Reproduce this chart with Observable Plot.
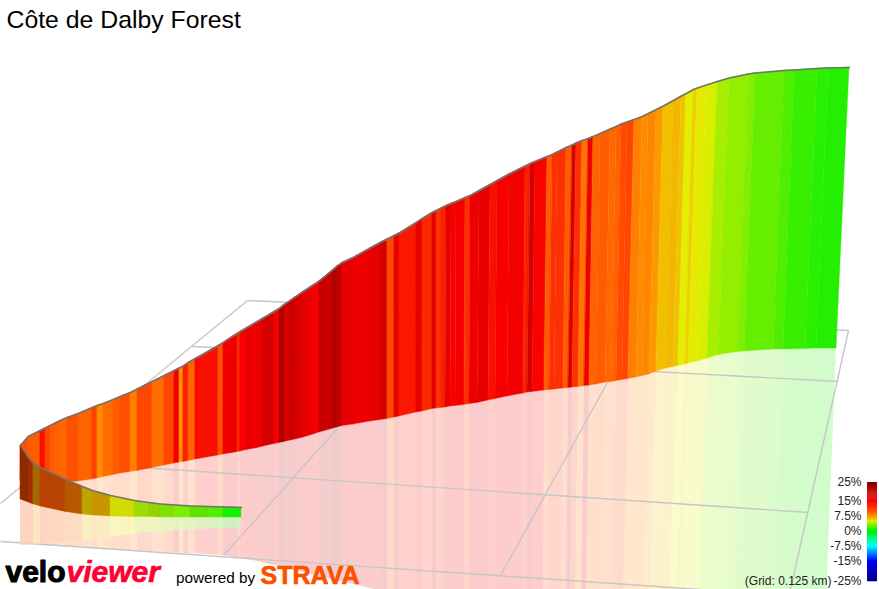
<!DOCTYPE html>
<html><head><meta charset="utf-8">
<script src="https://cdn.jsdelivr.net/npm/d3@7"></script>
<script src="https://cdn.jsdelivr.net/npm/@observablehq/plot@0.6"></script>
<style>
html,body{margin:0;padding:0;background:#fff}
svg{display:block}
g[aria-label="logo velo"] text{letter-spacing:.9px}
g[aria-label="logo viewer"] text{letter-spacing:-1px}
</style></head><body><div id="chart"></div>
<script>
const title = "Côte de Dalby Forest";
// Far ribbon: strip edges in picture coordinates
const topX = [20,28,40,45,50,55,60,67,78,92,97,103,113,120,130,137,152,164,174,179,183,188,195,198,218,223,232,237,240,246,252,257,263,274,279,284,290,295,303,313,319,333,337,342,353,370,380,387,394,399,416,422,432,436,441,446,451,456,465,470,479,490,497,509,525,530,535,547,552,557,566,572,576,582,588,593,600,610,616,621,627,634,642,648,656,663,673,681,686,693,697,706,717,729,748,755,784,794,817,828,849];
const topY = [445,436,430,427.5,425,422.5,420,417,413,407,405,403,399,396,392,388.5,381,375,370,367.5,365.5,362,358,356.5,345,342,336,333,331,327.5,324,321,317.5,311,308,304,300,296.5,291,284.5,280.5,269,265.5,262,257,247.5,242,238.5,235,232.5,222,218,212,210,207.5,205,203,201,197,195,190,184,180,173.5,165.5,163,161,156,154,151.5,147,144.5,142.5,140,138,136,133,128.5,126,123.5,121.5,119,116,113,109,105.5,100,95.5,93,89,87.5,84.5,81,77.5,73.5,72.5,70,69.5,68,67.5,67];
const baseX = [20,28,40,45,50,55,60,67,78,92,97,103,113,120,130,137,152,164,174,179,183,188,195,198,218,223,232,237,240,246,252,257,263,274,279,284,290,295,303,313,319,333,337,342,353,370,380,387,394,399,416,422,432,436,441,445,450,455,464,469,477,488,495,507,523,527,532,544,549,554,563,568,572,578,584,589,596,605,611,616,622,628,636,642,649,656,666,673,678,685,688,697,707,718,737,744,773,783,805,816,836];
const baseY = [480,480,481,481,481,481,482,482,481,479,478,476.5,474.5,473,471.5,470.5,467.5,465,463,462,461.5,460.5,459,458.5,455,454,452.5,451.5,451,449.5,448.5,447.5,446,443.5,442.5,441.5,440,439,437,434,432,428,427,425.5,424,421,419.5,418.5,417,416,412,411,408.5,408,407.5,407,406,405.5,404.5,403.5,402.5,400,398.5,396,393,392,391.5,390,389.5,389,388,387.5,387,386.5,385.5,385,384,382,381.5,380.5,379.5,378.5,377,375.5,374,371,368,366.5,365.5,364,363,361,358,354.5,351.5,351,349,349,348.5,348,348];
const floorX = [20,28,40,45,50,55,60,67,78,92,97,103,113,120,130,137,152,164,174,179,183,188,195,198,218,223,232,237,240,246,252,257,263,274,279,284,290,295,303,313,319,333,337,342,353,370,380,387,394,399,416,422,432,436,441,445,450,455,464,469,477,488,495,506,522,526,531,543,548,553,561,566,570,575,581,586,593,601,607,612,617,623,631,636,643,649,658,665,669,676,679,688,698,709,728,735,764,774,796,806,826];
const floorY = [544,544.4,545,545.4,545.6,546,546.2,546.5,547,548,548,548.5,549,549.4,550,550.3,551,552,552.4,552.7,553,553,553.5,553.6,554.7,555,556.6,557.5,558,559,560,561,562.5,565,566,567.5,569,570,572,574.4,575.8,579,580,581.3,584,588,590.5,592,594,595,600,600,600,600,600,600,600,600,600,600,600,600,600,600,600,600,600,600,600,600,600,600,600,600,600,600,600,600,600,600,600,600,600,600,600,600,600,600,600,600,600,600,600,600,600,600,600,600,600,600,600];
// Gradient (%) of each far strip
const grades = [10,9.5,14,10.5,9.5,9.2,9,10,9.2,11,7.5,8.8,9.5,10,8,10.6,8.8,10.6,16,7.5,13,9.2,14.5,14,10,15.5,16,12.5,15,16.5,15.5,16.5,18,15,21,18,19,17.5,16.5,15,19,21,19.5,16.3,15.8,16.5,18,10.5,16.5,13.5,16.5,12.5,17,12,13,16.5,15,15.3,12,15.8,16.3,14,15,15.4,13,18,14.8,9.5,12,12,9.5,18,12,8.5,16,9.2,9.5,9,9.2,10.3,10.6,8,7.5,7.7,7.2,6.2,6.4,6.1,5,5.8,5.1,4.8,3.8,3.4,3.1,2.5,2,1.4,1,0.9];
// Near ribbon
const nearX = [20,28,33,40,65,82,92,110,134,148,160,174,190,207,223,241];
const nearTopY = [445,457,463,467,479,486,490,495,500,502,503.5,504.5,505.5,506,506.5,507];
const nearBaseY = [499,502,504,506,511.5,514,515,516,516.5,516.5,517,517,517,517,517,517];
const nearFloorY = [545,544.5,544,543.5,542,540,539,537,533,532,531,530,529,528.5,528,527];
const nearGrades = [10,10.5,7,9.5,8.3,5.8,6.4,5,3.9,3.9,3.2,3,2.5,2,0.5];
const nearShade = [.45,.35,.35,.28,.28,.2,.18,.08,.08,.12,.05,0,.05,0,0];
// Floor grid
const gridX1 = [247,192,51,0,247,848,607,337];
const gridY1 = [300,346,461,541,300,330,382,428];
const gridX2 = [848,837,808,700,0,790,500,223];
const gridY2 = [330,381,512,589,503,589,575,555];
// Colour key
const keyGrades = [25,15,10,7.5,5,2.5,0,-7.5,-15,-25];
const keyColors = ["#800000","#f80000","#ff5000","#ff8c00","#e4ee00","#66ee00","#00f000","#00ffff","#0000ff","#000080"];
const keyLabels = ["25%","15%","7.5%","0%","-7.5%","-15%","-25%"];
const keyLabelGrades = [25,15,7.5,0,-7.5,-15,-25];
const keyLabelY = [482,501,516,531,546,561,581];

const quads = (n, row) => d3.range(n).flatMap(i => [row(i, i), row(i, i + 1)]);
const far = quads(grades.length, (s, e) => ({s, g: grades[s], tx: topX[e], ty: topY[e], bx: baseX[e], by: baseY[e], fx: floorX[e], fy: floorY[e]}));
const near = quads(nearGrades.length, (s, e) => ({s, g: nearGrades[s], k: nearShade[s], x: nearX[e], ty: nearTopY[e], by: nearBaseY[e], fy: nearFloorY[e]}));
const grid = gridX1.map((x, i) => ({x1: x, y1: gridY1[i], x2: gridX2[i], y2: gridY2[i]}));
const keyPos = d3.scaleLinear(keyLabelGrades, keyLabelY);
const keyCells = d3.range(-25, 25, 0.5).map(g => ({g, y1: keyPos(g + 0.5), y2: keyPos(g) + 0.3}));
const keyText = keyLabels.map((t, i) => ({t, y: keyLabelY[i]}));
const font = "'Liberation Sans', Arial, Helvetica, sans-serif";

document.getElementById("chart").append(Plot.plot({
  width: 879, height: 589, margin: 0, style: {background: "#fff", fontFamily: font},
  x: {domain: [0, 879], range: [0, 879], axis: null},
  y: {domain: [0, 589], range: [0, 589], axis: null},
  color: {type: "linear", domain: keyGrades.slice().reverse(), range: keyColors.slice().reverse(), interpolate: "rgb"},
  marks: [
    // floor tint
    Plot.area(far, {x1: "bx", y1: "by", x2: "fx", y2: "fy", z: "s", fill: "g", fillOpacity: 0.2}),
    Plot.link(grid, {x1: "x1", y1: "y1", x2: "x2", y2: "y2", stroke: "#c6c6c6", strokeWidth: 1.4}),
    // far ribbon
    Plot.area(far, {x1: "tx", y1: "ty", x2: "bx", y2: "by", z: "s", fill: "g", stroke: "g", strokeWidth: 0.4}),
    Plot.line(far.filter((d, i) => i % 2 === 0 || i === far.length - 1), {x: "tx", y: "ty", stroke: "#737373", strokeWidth: 1.5}),
    // near ribbon and its tint
    Plot.area(near, {x1: "x", y1: "by", x2: "x", y2: "fy", z: "s", fill: "#fff", fillOpacity: 0.75}),
    Plot.area(near, {x1: "x", y1: "by", x2: "x", y2: "fy", z: "s", fill: "g", fillOpacity: 0.2}),
    Plot.area(near, {x1: "x", y1: "ty", x2: "x", y2: "by", z: "s", fill: "g", stroke: "g", strokeWidth: 0.4}),
    Plot.area(near, {x1: "x", y1: "ty", x2: "x", y2: "by", z: "s", fill: "#000", fillOpacity: "k"}),
    Plot.line(near.filter((d, i) => i % 2 === 0 || i === near.length - 1), {x: "x", y: "ty", stroke: "#737373", strokeWidth: 1.5}),
    // colour key
    Plot.rect(keyCells, {x1: () => 867, x2: () => 877, y1: "y1", y2: "y2", fill: "g"}),
    Plot.text(keyText, {x: () => 861, y: "y", text: "t", textAnchor: "end", fontSize: 12, fill: "#222"}),
    Plot.text(["(Grid: 0.125 km)"], {x: () => 831, y: () => 581, text: d => d, textAnchor: "end", fontSize: 12, fill: "#222"}),
    // texts
    Plot.text([title], {x: () => 6, y: () => 20, text: d => d, textAnchor: "start", fontSize: 24.8, fill: "#000"}),
    Plot.text(["velo"], {ariaLabel: "logo velo", x: () => 5, y: () => 572, text: d => d, textAnchor: "start", fontSize: 30, fontWeight: 700, fill: "#000", stroke: "#000", strokeWidth: 1.1}),
    Plot.text(["viewer"], {ariaLabel: "logo viewer", x: () => 66, y: () => 572, text: d => d, textAnchor: "start", fontSize: 30, fontWeight: 700, fontStyle: "italic", fill: "#ff0033", stroke: "#ff0033", strokeWidth: 0.7}),
    Plot.text(["powered by"], {x: () => 175.5, y: () => 578, text: d => d, textAnchor: "start", fontSize: 15.3, fill: "#000"}),
    Plot.text(["STRAVA"], {ariaLabel: "logo strava", x: () => 260, y: () => 575, text: d => d, textAnchor: "start", fontSize: 25, fontWeight: 700, fill: "#fc5200", stroke: "#fc5200", strokeWidth: 0.7})
  ]
}));
</script></body></html>
